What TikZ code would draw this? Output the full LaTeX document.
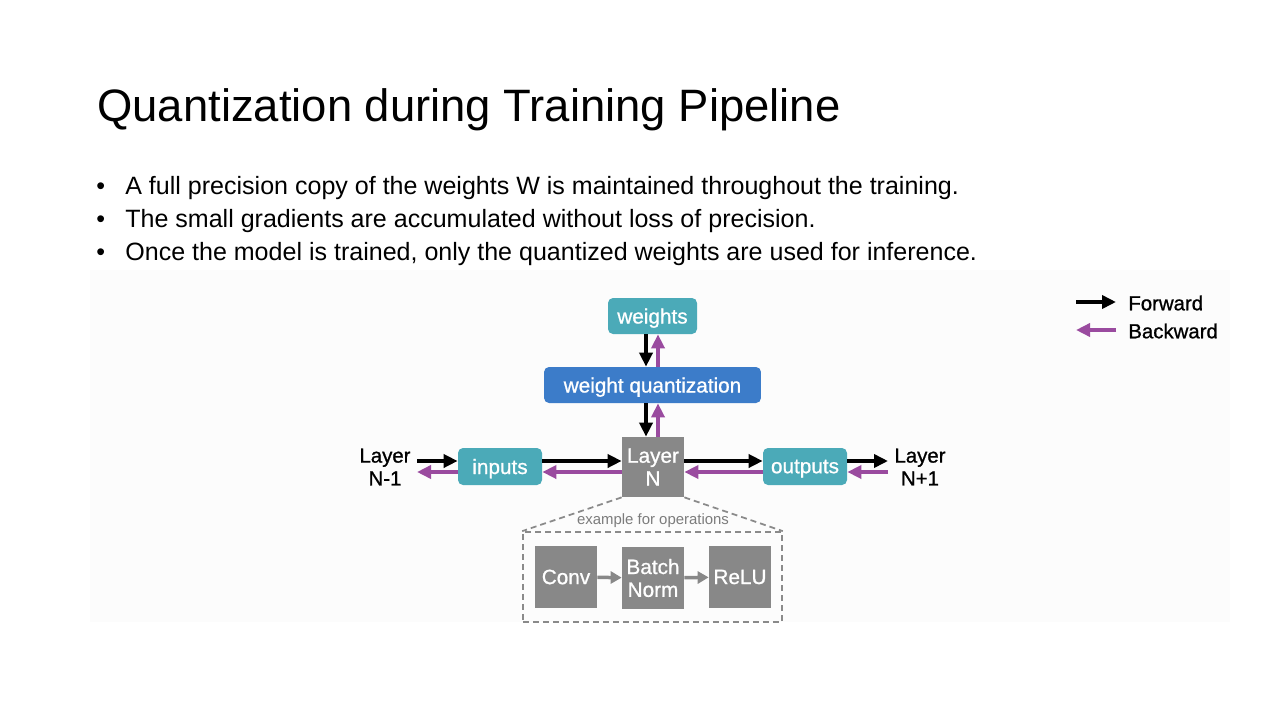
\documentclass[tikz,border=0pt]{standalone}
\usepackage{fontspec}
\setmainfont{Liberation Sans}
\newfontfamily\medfont{Liberation Sans}[FakeBold=0.9]
\usetikzlibrary{arrows.meta}
\definecolor{tealbox}{HTML}{4BAAB8}
\definecolor{bluebox}{HTML}{3C7CC9}
\definecolor{graybox}{HTML}{888888}
\definecolor{purp}{HTML}{9A4B9F}
\definecolor{dashgray}{HTML}{8A8A8A}
\definecolor{faint}{HTML}{FCFCFC}
\begin{document}
\begin{tikzpicture}[x=0.02cm,y=-0.02cm,
  boxbase/.style={inner sep=0pt, text=white, align=center, font=\medfont\fontsize{11.8}{13}\selectfont},
  tealnode/.style={boxbase, fill=tealbox, rounded corners=0.1cm, minimum height=0.74cm, text depth=0pt},
  bluenode/.style={boxbase, fill=bluebox, rounded corners=0.1cm, minimum height=0.72cm, text depth=0pt},
  graynode/.style={boxbase, fill=graybox, minimum width=1.24cm},
  fwd/.style={black, line width=0.07cm, -{Triangle[length=0.28cm,width=0.26cm]}},
  bwd/.style={purp, line width=0.07cm, -{Triangle[length=0.28cm,width=0.26cm]}},
  opar/.style={graybox, line width=0.07cm, -{Triangle[length=0.22cm,width=0.24cm]}},
  dashline/.style={dashgray, line width=0.035cm, dash pattern=on 0.12cm off 0.08cm},
  lbl/.style={align=center, inner sep=0pt, font=\medfont\fontsize{11.6}{13}\selectfont},
  bullettext/.style={anchor=base west, inner sep=0pt, font=\fontsize{14.25}{17}\selectfont}
]
\useasboundingbox (0,0) rectangle (1280,720);
\fill[white] (0,0) rectangle (1280,720);
\fill[faint] (90,270) rectangle (1230,622);

% title and bullets
\node[anchor=base west, inner sep=0pt, font=\fontsize{25.85}{30}\selectfont] (title) at (97,121) {Quantization during Training Pipeline};
\node[bullettext] (b1d) at (96,194) {•};
\node[bullettext] (b1) at (125,194) {A full precision copy of the weights W is maintained throughout the training.};
\node[bullettext] (b2d) at (96,227) {•};
\node[bullettext] (b2) at (125,227) {The small gradients are accumulated without loss of precision.};
\node[bullettext] (b3d) at (96,260) {•};
\node[bullettext] (b3) at (125,260) {Once the model is trained, only the quantized weights are used for inference.};

% main nodes
\node[tealnode, minimum width=1.78cm, minimum height=0.72cm] (weights) at (652.5,316) {weights};
\node[bluenode, minimum width=4.34cm] (wq) at (652.5,385) {weight quantization};
\node[graynode, minimum height=1.2cm] (LN) at (653,467) {Layer\\N};
\node[tealnode, minimum width=1.68cm] (inputs) at (500,466.5) {inputs};
\node[tealnode, minimum width=1.68cm] (outputs) at (805,466.5) {outputs};
\node[lbl] (Lm1) at (385,467) {Layer\\N-1};
\node[lbl] (Lp1) at (920,467) {Layer\\N+1};
\coordinate (lm1e) at (417,466.5);
\coordinate (lp1w) at (888,466.5);

% horizontal arrows
\draw[fwd] ([yshift=0.11cm]lm1e) -- ([yshift=0.11cm]inputs.west);
\draw[bwd] ([yshift=-0.11cm]inputs.west) -- ([yshift=-0.11cm]lm1e);
\draw[fwd] ([yshift=0.11cm]inputs.east) -- ([yshift=0.11cm]inputs.east -| LN.west);
\draw[bwd] ([yshift=-0.11cm]inputs.east -| LN.west) -- ([yshift=-0.11cm]inputs.east);
\draw[fwd] ([yshift=0.11cm]outputs.west -| LN.east) -- ([yshift=0.11cm]outputs.west);
\draw[bwd] ([yshift=-0.11cm]outputs.west) -- ([yshift=-0.11cm]outputs.west -| LN.east);
\draw[fwd] ([yshift=0.11cm]outputs.east) -- ([yshift=0.11cm]lp1w);
\draw[bwd] ([yshift=-0.11cm]lp1w) -- ([yshift=-0.11cm]outputs.east);

% vertical arrows
\draw[fwd] ([xshift=-0.13cm]weights.south) -- ([xshift=-0.13cm]weights.south |- wq.north);
\draw[bwd] ([xshift=0.11cm]weights.south |- wq.north) -- ([xshift=0.11cm]weights.south);
\draw[fwd] ([xshift=-0.13cm]wq.south) -- ([xshift=-0.13cm]wq.south |- LN.north);
\draw[bwd] ([xshift=0.11cm]wq.south |- LN.north) -- ([xshift=0.11cm]wq.south);

% operations example
\node[draw, dashline, minimum width=5.18cm, minimum height=1.8cm, inner sep=0pt] (ops) at (652.5,577) {};
\draw[dashline] (LN.south west) -- (ops.north west);
\draw[dashline] (LN.south east) -- (ops.north east);
\node[inner sep=0pt, text=dashgray!90!black, font=\fontsize{8.5}{10}\selectfont] (oplbl) at (653,521) {example for operations};
\node[graynode, minimum height=1.24cm] (conv) at (566,577) {Conv};
\node[graynode, minimum height=1.24cm] (bn) at (653,578) {Batch\\Norm};
\node[graynode, minimum height=1.24cm] (relu) at (740,577) {ReLU};
\draw[opar] (conv) -- (bn);
\draw[opar] (bn) -- (relu);

% legend
\coordinate (fa) at (1076,302);
\coordinate (fb) at (1116,302);
\coordinate (ba) at (1116,330);
\coordinate (bb) at (1076,330);
\draw[fwd] (fa) -- (fb);
\draw[bwd] (ba) -- (bb);
\node[anchor=west, inner sep=0pt, font=\medfont\fontsize{11.6}{13.5}\selectfont] (fwdlbl) at (1128,303) {Forward};
\node[anchor=west, inner sep=0pt, font=\medfont\fontsize{11.6}{13.5}\selectfont] (bwdlbl) at (1128,331) {Backward};
\end{tikzpicture}
\end{document}
